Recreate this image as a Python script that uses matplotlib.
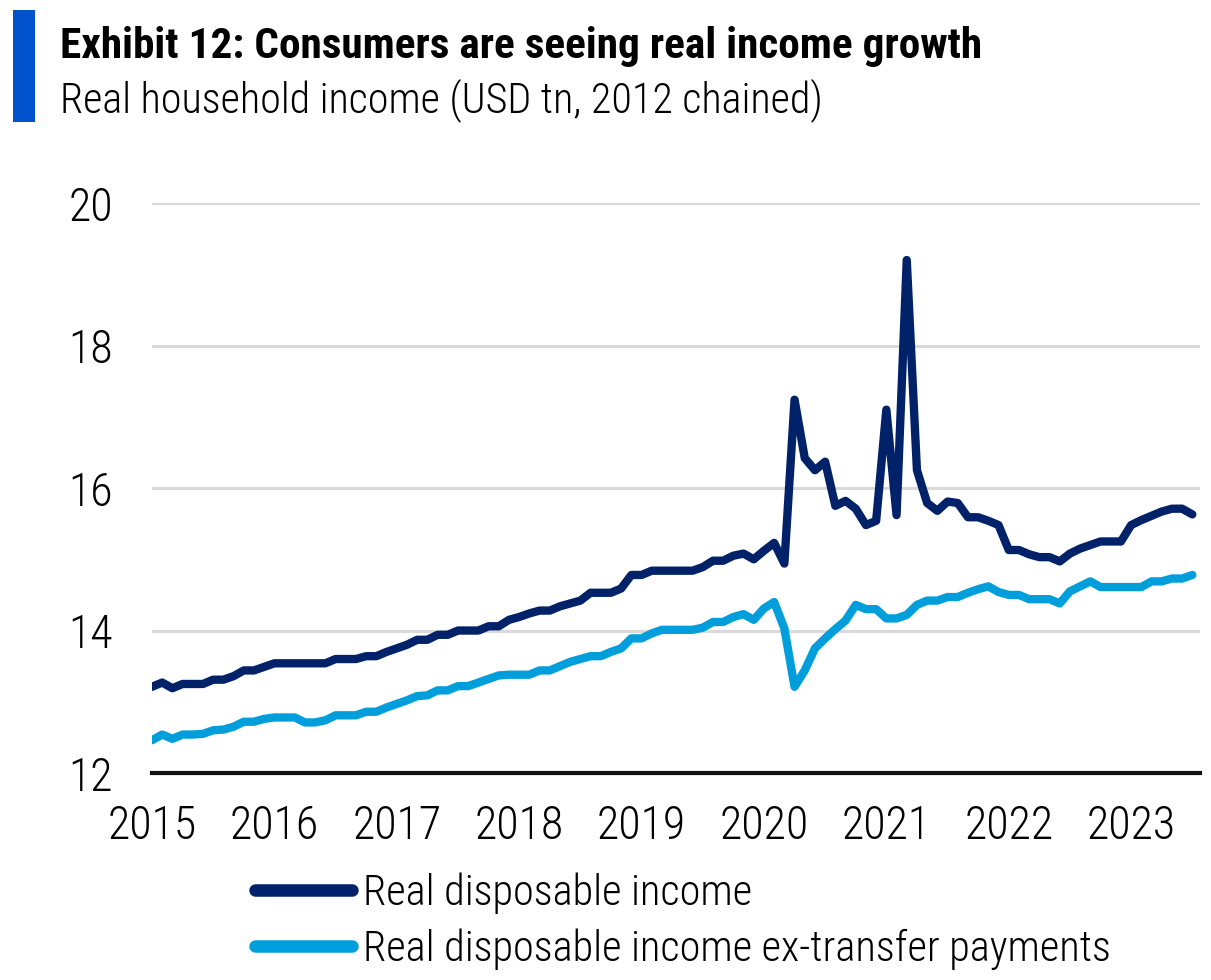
import matplotlib
matplotlib.use("Agg")
import matplotlib.pyplot as plt
from matplotlib.patches import Rectangle
import numpy as np

plt.rcParams['font.family'] = ['Roboto Condensed', 'Open Sans Condensed', 'PT Sans Narrow',
                               'Asap Condensed', 'Sofia Sans Condensed', 'DejaVu Sans']
plt.rcParams['font.weight'] = 'light'

NAVY = "#012169"
SKY = "#009fdb"

# monthly, Jan 2015 - Jul 2023 (USD tn, 2012 chained)
start_year = 2015
rdi = [13.21, 13.27, 13.19, 13.25, 13.25, 13.25, 13.31, 13.31, 13.36, 13.44, 13.44, 13.49,
       13.54, 13.54, 13.54, 13.54, 13.54, 13.54, 13.60, 13.60, 13.60, 13.64, 13.64, 13.70,
       13.75, 13.80, 13.87, 13.87, 13.94, 13.94, 14.00, 14.00, 14.00, 14.06, 14.06, 14.15,
       14.19, 14.24, 14.28, 14.28, 14.34, 14.38, 14.42, 14.53, 14.53, 14.53, 14.59, 14.78,
       14.78, 14.84, 14.84, 14.84, 14.84, 14.84, 14.89, 14.98, 14.98, 15.05, 15.08, 15.00,
       15.12, 15.23, 14.94, 17.24, 16.42, 16.25, 16.37, 15.75, 15.82, 15.71, 15.48, 15.54,
       17.10, 15.62, 19.20, 16.25, 15.79, 15.68, 15.81, 15.79, 15.59, 15.59, 15.54, 15.48,
       15.13, 15.13, 15.07, 15.03, 15.03, 14.97, 15.08, 15.15, 15.20, 15.25, 15.25, 15.25,
       15.48, 15.55, 15.61, 15.67, 15.71, 15.71, 15.63]
rdi_ex = [12.46, 12.54, 12.48, 12.54, 12.54, 12.55, 12.60, 12.61, 12.65, 12.72, 12.72, 12.76,
          12.78, 12.78, 12.78, 12.71, 12.71, 12.74, 12.81, 12.81, 12.81, 12.86, 12.86, 12.92,
          12.97, 13.02, 13.08, 13.09, 13.16, 13.16, 13.22, 13.22, 13.27, 13.32, 13.37, 13.38,
          13.38, 13.38, 13.44, 13.44, 13.50, 13.56, 13.60, 13.64, 13.64, 13.70, 13.75, 13.89,
          13.89, 13.96, 14.01, 14.01, 14.01, 14.01, 14.04, 14.12, 14.12, 14.19, 14.23, 14.15,
          14.31, 14.40, 14.03, 13.21, 13.44, 13.75, 13.89, 14.02, 14.14, 14.36, 14.30, 14.30,
          14.17, 14.17, 14.22, 14.36, 14.42, 14.42, 14.47, 14.47, 14.53, 14.58, 14.62, 14.54,
          14.50, 14.50, 14.44, 14.44, 14.44, 14.38, 14.55, 14.62, 14.69, 14.61, 14.61, 14.61,
          14.61, 14.61, 14.69, 14.69, 14.73, 14.73, 14.78]
years = list(range(2015, 2024))
yticks = [12, 14, 16, 18, 20]

fig = plt.figure(figsize=(12.11, 9.8), dpi=100)
ax = fig.add_axes([0.1255, 0.2112, 0.8654, 0.5816])

months = np.arange(len(rdi))
ax.plot(months, rdi, color=NAVY, lw=6, solid_joinstyle='round', solid_capstyle='round',
        label="Real disposable income", zorder=3)
ax.plot(months, rdi_ex, color=SKY, lw=6, solid_joinstyle='round', solid_capstyle='round',
        label="Real disposable income ex-transfer payments", zorder=3)

ax.set_xlim(0, len(rdi) - 0.25)
ax.set_ylim(12, 20)
ax.set_yticks(yticks)
ax.set_xticks([(y - start_year) * 12 for y in years])
ax.set_xticklabels([str(y) for y in years])
ax.grid(axis='y', color='#d9d9d9', lw=2.2, zorder=0)
ax.tick_params(axis='both', length=0, labelsize=33)
ax.tick_params(axis='y', pad=28)
ax.tick_params(axis='x', pad=22)
for s in ['top', 'right', 'left']:
    ax.spines[s].set_visible(False)
ax.spines['bottom'].set_color('#111111')
ax.spines['bottom'].set_linewidth(3)
ax.spines['bottom'].set_zorder(4)

leg = ax.legend(loc='upper left', bbox_to_anchor=(255 / 1211, 1 - 872 / 980),
                bbox_transform=fig.transFigure, frameon=False, fontsize=30.5,
                handlelength=2.3, handletextpad=0.24, labelspacing=0.36, borderpad=0,
                borderaxespad=0)
for h in leg.legend_handles:
    h.set_linewidth(9)
    h.set_solid_capstyle('round')

# header: blue bar, title, subtitle
fig.add_artist(Rectangle((13 / 1211, 1 - 122 / 980), 22 / 1211, 112 / 980,
                         transform=fig.transFigure, color='#0052cc', lw=0))
title = fig.text(60 / 1211, 1 - 58 / 980, "Exhibit 12: Consumers are seeing real income growth",
                 fontsize=29, fontweight='bold', va='baseline', ha='left')
subtitle = fig.text(60 / 1211, 1 - 112 / 980, "Real household income (USD tn, 2012 chained)",
                    fontsize=29, va='baseline', ha='left')

# stretch header text to its column width
renderer = fig.canvas.get_renderer()
for t, width_px in [(title, 920), (subtitle, 762)]:
    w = t.get_window_extent(renderer).width
    t.set_fontsize(min(t.get_fontsize() * width_px / w, 34))

fig.savefig("out.png", dpi=100)
